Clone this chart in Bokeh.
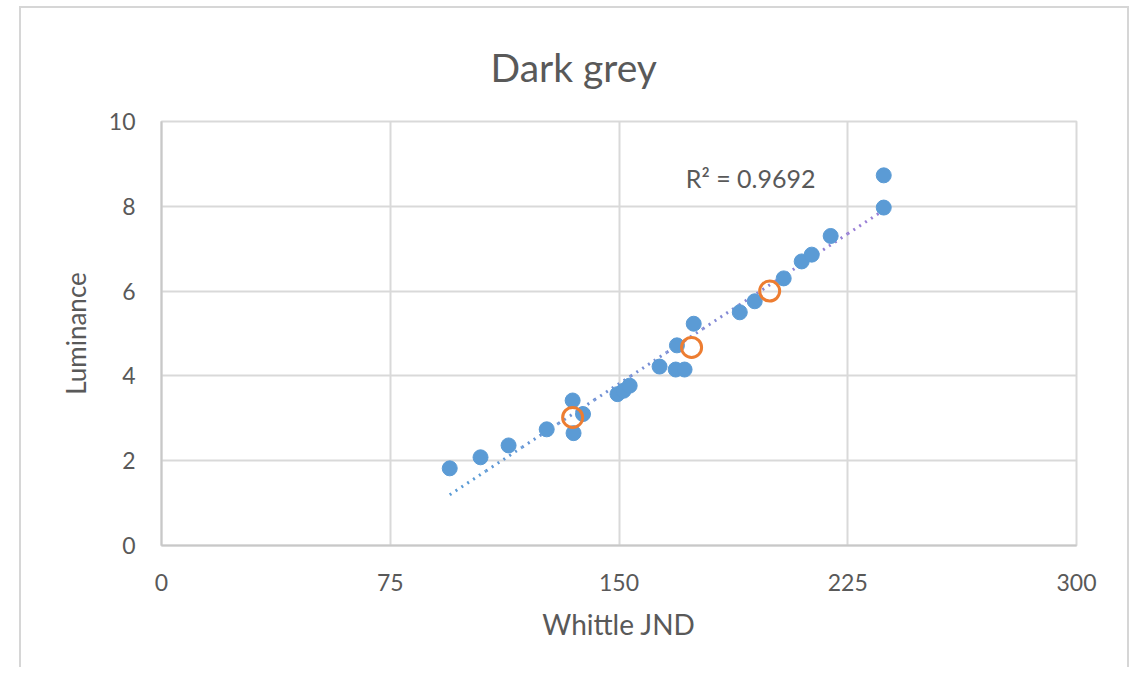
import numpy as np
from bokeh.plotting import figure
from bokeh.models import Range1d, FixedTicker, Label
from bokeh.embed import file_html
from bokeh.resources import INLINE

# ---- data ----
jnd_x = [94.5, 104.6, 113.8, 126.3, 134.8, 135.1, 138.2, 149.5, 151.5, 153.5,
         163.3, 168.6, 171.5, 169.0, 174.5, 189.6, 194.5, 204.0, 209.9, 213.2,
         219.4, 236.8, 236.8]
lum_y = [1.82, 2.08, 2.36, 2.74, 3.42, 2.65, 3.10, 3.57, 3.65, 3.77,
         4.22, 4.15, 4.15, 4.72, 5.23, 5.50, 5.76, 6.30, 6.70, 6.86,
         7.30, 7.97, 8.73]
ref_x = [134.8, 173.8, 199.4]
ref_y = [3.02, 4.67, 6.00]
x_ticks = [0, 75, 150, 225, 300]
y_ticks = [0, 2, 4, 6, 8, 10]
title_text = "Dark grey"
x_title = "Whittle JND"
y_title = "Luminance"
r2_text = "R\u00b2 = 0.9692"

FONT = "Lato"
TXT = "#595959"
GRID = "#d9d9d9"

p = figure(width=1110, height=661, output_backend="svg", toolbar_location=None,
           x_range=Range1d(0, 300), y_range=Range1d(0, 10),
           min_border_left=140, min_border_right=55, min_border_top=113, min_border_bottom=124,
           title=title_text)
p.margin = (6, 0, 0, 19)
p.styles = {"border-left": "2px solid #d6d6d6", "border-top": "2px solid #d6d6d6",
            "border-right": "2px solid #d6d6d6", "box-sizing": "border-box"}
p.background_fill_color = "white"
p.border_fill_color = "white"
p.outline_line_color = GRID
p.outline_line_width = 2

p.title.align = "left"
p.title.offset = 329
p.title.standoff = 63
p.title.text_font = FONT
p.title.text_font_size = "39px"
p.title.text_font_style = "normal"
p.title.text_color = TXT

p.xaxis.ticker = FixedTicker(ticks=x_ticks)
p.yaxis.ticker = FixedTicker(ticks=y_ticks)
for ax in (p.xaxis, p.yaxis):
    ax.axis_line_color = "#c8c8c8"
    ax.axis_line_width = 2
    ax.major_tick_line_color = None
    ax.minor_tick_line_color = None
    ax.major_label_text_font = FONT
    ax.major_label_text_font_size = "23px"
    ax.major_label_text_color = TXT
    ax.axis_label_text_font = FONT
    ax.axis_label_text_font_style = "normal"
    ax.axis_label_text_color = TXT
p.xaxis.axis_label_text_font_size = "28px"
p.yaxis.axis_label_text_font_size = "26px"
p.xaxis.major_label_standoff = 22
p.yaxis.major_label_standoff = 20
p.xaxis.axis_label = x_title
p.yaxis.axis_label = y_title
p.xaxis.axis_label_standoff = 13
p.yaxis.axis_label_standoff = 14

p.xgrid.grid_line_color = GRID
p.ygrid.grid_line_color = GRID
p.xgrid.grid_line_width = 2
p.ygrid.grid_line_width = 2

# linear trendline computed from blue series
a, b = np.polyfit(jnd_x, lum_y, 1)
xs = np.linspace(min(jnd_x), max(jnd_x), 13)
c0 = np.array([0x5b, 0x9b, 0xd5])
c1 = np.array([0x9a, 0x7f, 0xd6])
for i in range(len(xs) - 1):
    t = i / (len(xs) - 2)
    c = (c0 * (1 - t) + c1 * t).astype(int)
    col = "#%02x%02x%02x" % tuple(c)
    p.line([xs[i], xs[i + 1]], [a * xs[i] + b, a * xs[i + 1] + b],
           line_color=col, line_width=3, line_dash="2 5")

p.scatter(jnd_x, lum_y, size=15, fill_color="#5b9bd5", line_color="#5b9bd5")
p.scatter(ref_x, ref_y, size=20, fill_color=None, line_color="#ed7d31", line_width=3)

p.add_layout(Label(x=171.9, y=8.66, text=r2_text, text_align="left",
                   text_baseline="middle", text_font=FONT,
                   text_font_size="25px", text_color=TXT))

open("out.html", "w").write(file_html(p, INLINE))
